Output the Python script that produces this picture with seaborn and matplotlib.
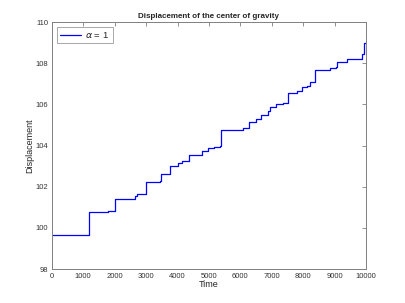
import numpy as np
import pandas as pd
import matplotlib
matplotlib.use("Agg")
import matplotlib.pyplot as plt
import seaborn as sns

# step starts (time) and displacement held from that time on
step_time = [0, 1170, 1790, 2000, 2640, 2720, 3010, 3440, 3470, 3755, 4000, 4150,
             4370, 4770, 4980, 5170, 5350, 5383, 6085, 6277, 6510, 6670, 6883, 6957,
             7128, 7340, 7500, 7787, 7947, 8106, 8213, 8383, 8851, 9043, 9064, 9383,
             9883, 9936, 10000]
step_disp = [99.645, 100.77, 100.81, 101.40, 101.53, 101.65, 102.23, 102.27, 102.61,
             103.02, 103.15, 103.24, 103.53, 103.76, 103.87, 103.95, 104.00, 104.78,
             104.86, 105.15, 105.27, 105.48, 105.69, 105.87, 106.00, 106.08, 106.57,
             106.65, 106.83, 106.91, 107.07, 107.67, 107.76, 107.80, 108.08, 108.21,
             108.47, 109.00, 109.00]

x_ticks = [0, 1000, 2000, 3000, 4000, 5000, 6000, 7000, 8000, 9000, 10000]
y_ticks = [98, 100, 102, 104, 106, 108, 110]

df = pd.DataFrame({"Time": step_time, "Displacement": step_disp})

sns.set_style("white")
plt.rcParams["font.family"] = ["Liberation Sans", "DejaVu Sans"]

fig = plt.figure(figsize=(4.05, 3.03), dpi=100)
ax = fig.add_axes([0.128, 0.112, 0.776, 0.815])

sns.lineplot(data=df, x="Time", y="Displacement", drawstyle="steps-post",
             color="blue", linewidth=0.9, label=r"$\alpha$ = 1", ax=ax)
for ln in ax.get_lines():
    ln.set_color("blue")

ax.set_xlim(0, 10000)
ax.set_ylim(98, 110)
ax.set_xticks(x_ticks)
ax.set_yticks(y_ticks)
ax.tick_params(direction="in", length=3, width=0.6, labelsize=5.5,
               top=True, right=True, color="#808080", labelcolor="#333333", pad=2.5)
for sp in ax.spines.values():
    sp.set_linewidth(0.7)
    sp.set_color("#808080")
ax.set_xlabel("Time", fontsize=6.5, labelpad=0, color="#262626")
ax.set_ylabel("Displacement", fontsize=6.5, labelpad=1, color="#262626")
ax.set_title("Displacement of the center of gravity", fontsize=5.8,
             fontweight="bold", pad=3)

leg = ax.legend(loc="upper left", fontsize=6.8, frameon=True, fancybox=False,
                handlelength=2.2, handletextpad=0.5, borderaxespad=0.5,
                borderpad=0.35)
leg.get_frame().set_edgecolor("#808080")
leg.get_frame().set_linewidth(0.6)
for h in leg.get_lines():
    h.set_color("blue")

fig.savefig("out.png", dpi=100, facecolor="white")
